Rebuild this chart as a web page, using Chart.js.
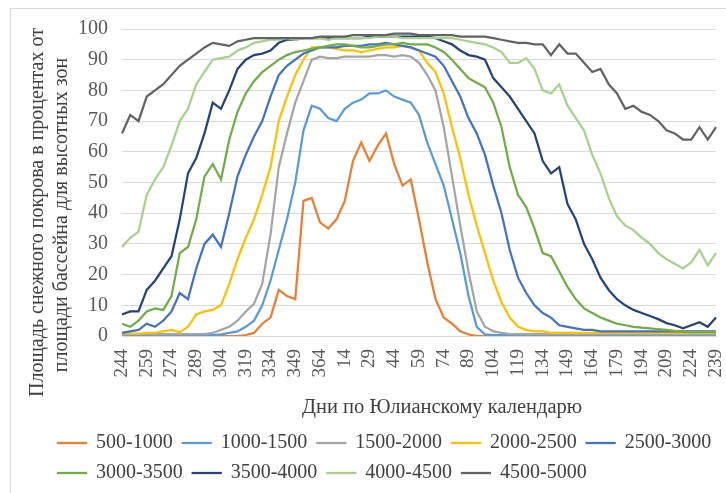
<!DOCTYPE html>
<html>
<head>
<meta charset="utf-8">
<script src="https://cdn.jsdelivr.net/npm/chart.js@4.4.1/dist/chart.umd.min.js"></script>
<style>
  html, body { margin: 0; padding: 0; background: #fff; }
  #wrap { position: relative; width: 726px; height: 493px; overflow: hidden; }
  #frame { position: absolute; left: 10px; top: 8px; width: 760px; height: 520px; border: 1px solid #d9d9d9; }
  #snowChart { position: absolute; left: 0; top: 0; }
</style>
</head>
<body>
<div id="wrap">
  <div id="frame"></div>
  <canvas id="snowChart" width="726" height="493"></canvas>
</div>
<script>
// Julian days, 5-day step, from 244 over the new year to 239
const days = [244,249,254,259,264,269,274,279,284,289,294,299,304,309,314,319,324,329,334,339,344,349,354,359,364,
  4,9,14,19,24,29,34,39,44,49,54,59,64,69,74,79,84,89,94,99,104,109,114,119,124,129,134,139,144,149,154,159,
  164,169,174,179,184,189,194,199,204,209,214,219,224,229,234,239];
const tickDays = [244,259,274,289,304,319,334,349,364,14,29,44,59,74,89,104,119,134,149,164,179,194,209,224,239];

const z500_1000 = [0,0,0,0,0,0,0,0,0,0, 0,0,0,0,0,0.3,1,4,6,15, 13,12,44,45,37,35,38,44,57,63,
  57,62,66,56,49,51,38,24,12,6, 4,1.5,0.5,0,0,0,0,0,0,0, 0,0,0,0,0,0,0,0,0,0, 0,0,0,0,0,0,0,0,0,0, 0,0,0];
const z1000_1500 = [0.3,0.3,0.3,0.3,0.3,0.3,0.3,0.3,0.3,0.3, 0.3,0.3,0.5,1,1.5,3,5,10,18,28, 38,50,67,75,74,71,70,74,76,77,
  79,79,80,78,77,76,72,63,56,49, 38,27,13,3,0.5,0.3,0.3,0.3,0.3,0.3, 0.3,0.3,0.3,0.3,0.3,0.3,0.3,0.3,0.3,0.3,
  0.3,0.3,0.3,0.3,0.3,0.3,0.3,0.3,0.3,0.3, 0.3,0.3,0.3];
const z1500_2000 = [0.6,0.6,0.6,0.6,0.6,0.6,0.6,0.6,0.6,0.6, 0.6,1,2,3,5,8,10.5,17,33,55, 66,76,83,90,91,90.5,90.5,91,91,91,
  91,91.5,91.5,91,91.5,91,89,85,80,68, 52,36,21,8,3,1.5,1,0.6,0.6,0.6, 0.6,0.6,0.6,0.6,0.6,0.6,0.6,0.6,0.6,0.6,
  0.6,0.6,0.6,0.6,0.6,0.6,0.6,0.6,0.6,0.6, 0.6,0.6,0.6];
const z2000_2500 = [0.8,0.8,0.8,1,1,1.5,2,1.2,3,7, 8,8.5,10,17,25,32,38,46,55,70, 78,85,90,94,94,94,93.5,93,93,92.5,
  93,93.5,94,94,94.5,94,93,89,86,79, 68,58,46,36,27,18,11,6,3,2, 1.5,1.5,1,1,1,1,1,1,1,1,
  1,1,1,1,1,1,1,1,1,1, 1,1,1];
const z2500_3000 = [1,1.5,2,4,3,5,8,14,12,22, 30,33,29,40,52,59,65,70,78,85, 88,90,92,93,94,94,94,94.5,94.5,94.5,
  95,95,95.5,95,94.5,94,93,92,91,88, 83,78,71,66,59,49,40,28,19,14, 10,7.5,6,3.5,3,2.5,2,2,1.5,1.5,
  1.5,1.5,1.5,1.5,1.5,1.5,1.5,1.5,1.5,1.5, 1.5,1.5,1.5];
const z3000_3500 = [4,3,5,8,9,8.5,13,27,29,38, 52,56,51,64,73,79,83,86,88,90, 91.5,92.5,93,93.5,94,94.5,95,95,94.5,94,
  94,94.5,95,95,95.5,95,95,95,94,92.5, 90,87,84,82.5,81,76,68,55,46,42, 35,27,26,21,16,12,9,7.5,6,5,
  4,3.5,3,2.7,2.5,2.2,2,1.7,1.5,1.3, 1.3,1.3,1.3];
const z3500_4000 = [7,8,8,15,18,22,26,38,53,58, 66,76,74,80,87,90,91.5,92,93,95.5, 96.5,96.5,97,97,97,97,97,97,97,97,
  97.5,97.5,97.5,97.5,97.5,97.5,97.5,97.5,97,96, 95,93,91.5,91,90,84,81,78,74,70, 66,57,53,55,43,38,30,25,19,15,
  12,10,8.5,7.5,6.5,5.5,4.2,3.5,2.5,3.5, 4.5,3,6];
const z4000_4500 = [29,32,34,46,51,55,62,70,74,82, 86,90,90.5,91,93,94,95.5,96,96.5,96.5, 97,96.5,97,97,97,96.5,97,97,97,97,
  97,97.5,97.5,97.5,97,97,97,97,97,97, 97,96.5,96,95.5,95,94,92.5,89,89,90.5, 87,80,79,82,75,71,67,59,53,45,
  39,36,34.5,32,30,27,25,23.5,22,24, 28,23,27];
const z4500_5000 = [66,72,70,78,80,82,85,88,90,92, 94,95.5,95,94.5,96,96.5,97,97,97,97, 97,97,97,97,97.5,97.5,97.5,97.5,98,98,
  98,98,98,98.5,98.5,98.5,98,98,98,98, 98,97.5,97.5,97.5,97.5,97,96.5,96,95.5,95.5, 95,95,91.5,95,92,92,89,86,87,82,
  79,74,75,73,72,70,67,66,64,64, 68,64,68];

const zoneNames = ['500-1000','1000-1500','1500-2000','2000-2500','2500-3000','3000-3500','3500-4000','4000-4500','4500-5000'];
const zoneValues = [z500_1000, z1000_1500, z1500_2000, z2000_2500, z2500_3000, z3000_3500, z3500_4000, z4000_4500, z4500_5000];
const zoneColors = ['#ED7D31','#5B9BD5','#A5A5A5','#FFC000','#4472C4','#70AD47','#264478','#A9D18E','#636363'];

const serif = "'Liberation Serif', 'Times New Roman', serif";
const pad = n => ' '.repeat(n);

// Excel draws later series on top, Chart.js the opposite -> use order
const datasets = zoneNames.map((name, i) => ({
  label: name,
  data: zoneValues[i],
  borderColor: zoneColors[i],
  backgroundColor: zoneColors[i],
  borderWidth: 2.25,
  pointRadius: 0,
  tension: 0,
  order: zoneNames.length - i
}));

// push the legend rows to the right, like the original
const legendShift = {
  id: 'legendShift',
  afterLayout(chart) {
    if (chart.legend) {
      chart.legend.left += 38;
      chart.legend.right += 38;
    }
  }
};

new Chart(document.getElementById('snowChart'), {
  type: 'line',
  data: { labels: days, datasets: datasets },
  plugins: [legendShift],
  options: {
    responsive: false,
    animation: false,
    layout: { padding: { left: 10, right: 10, top: 29, bottom: 0 } },
    scales: {
      x: {
        offset: false,
        grid: { display: false, drawTicks: false },
        border: { display: true, color: '#d9d9d9' },
        ticks: {
          autoSkip: false,
          minRotation: 90,
          maxRotation: 90,
          padding: 13,
          color: '#595959',
          font: { family: serif, size: 19 },
          callback: function(value, index) {
            return tickDays.includes(days[index]) ? String(days[index]) : '';
          }
        },
        title: {
          display: true,
          text: pad(9) + 'Дни по Юлианскому календарю',
          color: '#404040',
          font: { family: serif, size: 20.5 },
          padding: { top: 0, bottom: 3 }
        },
        afterFit: function(scale) {
          scale.height = 87;
          scale.paddingLeft = 0;
          scale.paddingRight = 0;
        }
      },
      y: {
        min: 0,
        max: 100,
        grid: { color: '#d9d9d9', drawTicks: false },
        border: { display: false },
        ticks: {
          stepSize: 10,
          padding: 14,
          color: '#595959',
          font: { family: serif, size: 20 }
        },
        title: {
          display: true,
          text: ['Площадь снежного покрова в процентах от' + pad(12), 'площади бассейна для высотных зон' + pad(13)],
          color: '#404040',
          font: { family: serif, size: 20, lineHeight: 1.2 },
          padding: { top: 16, bottom: 0 }
        },
        afterFit: function(scale) { scale.width = 112; }
      }
    },
    plugins: {
      legend: {
        position: 'bottom',
        align: 'start',
        labels: {
          boxWidth: 28,
          boxHeight: 0.01,
          padding: 10,
          color: '#404040',
          font: { family: serif, size: 20 },
          sort: (a, b) => a.datasetIndex - b.datasetIndex
        }
      },
      tooltip: { enabled: false }
    }
  }
});
</script>
</body>
</html>
